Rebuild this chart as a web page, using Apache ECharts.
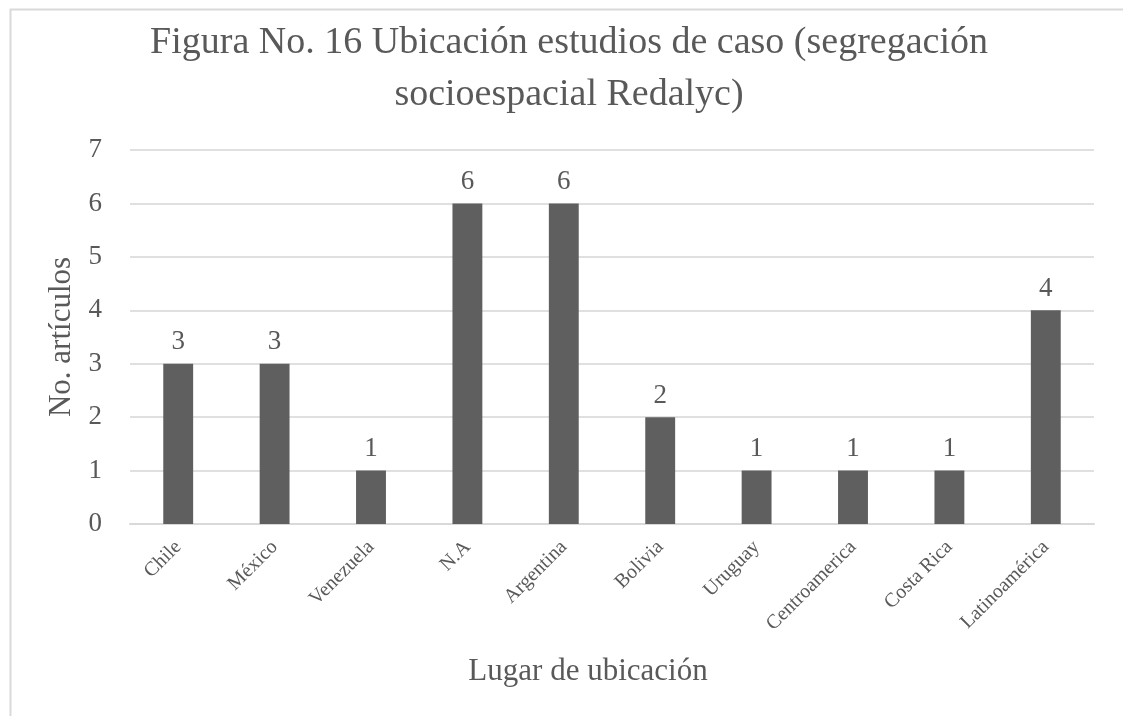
<!DOCTYPE html>
<html>
<head>
<meta charset="utf-8">
<script src="https://cdn.jsdelivr.net/npm/echarts@6/dist/echarts.min.js"></script>
<style>
  html, body { margin: 0; padding: 0; background: #fff; }
  #chart { width: 1123px; height: 716px; }
</style>
</head>
<body>
<div id="chart"></div>
<script>
// datos
const categories = ["Chile", "México", "Venezuela", "N.A", "Argentina", "Bolivia", "Uruguay", "Centroamerica", "Costa Rica", "Latinoamérica"];
const articulos = [3, 3, 1, 6, 6, 2, 1, 1, 1, 4];
const yTicks = { min: 0, max: 7, interval: 1 };

const serif = "'Liberation Serif', 'Times New Roman', serif";
const gris = "#595959";

const chart = echarts.init(document.getElementById("chart"));

const option = {
    backgroundColor: "#fff",
    animation: false,
    // marco del gráfico (recortado abajo)
    graphic: [
        {
            type: "rect",
            left: 8,
            top: 7,
            shape: { width: 1114, height: 730 },
            style: { fill: "none", stroke: "#d9d9d9", lineWidth: 2 },
            silent: true
        }
    ],
    title: {
        text: "Figura No. 16 Ubicación estudios de caso (segregación\nsocioespacial Redalyc)",
        left: 564,
        top: 12,
        textAlign: "center",
        textStyle: {
            fontFamily: serif,
            fontWeight: "normal",
            fontSize: 38,
            lineHeight: 52,
            color: gris
        }
    },
    grid: {
        left: 130,
        right: 29,
        top: 150,
        bottom: 192
    },
    xAxis: {
        type: "category",
        data: categories,
        name: "Lugar de ubicación",
        nameLocation: "middle",
        nameGap: 132,
        nameTextStyle: { fontFamily: serif, fontSize: 31, color: gris, padding: [0, 48, 0, 0] },
        axisLine: { lineStyle: { color: "#d9d9d9", width: 2 } },
        axisTick: { show: false },
        axisLabel: {
            rotate: 45,
            interval: 0,
            margin: 20,
            fontFamily: serif,
            fontSize: 20,
            color: gris
        }
    },
    yAxis: {
        type: "value",
        min: yTicks.min,
        max: yTicks.max,
        interval: yTicks.interval,
        name: "No. artículos",
        nameLocation: "middle",
        nameGap: 52,
        nameTextStyle: { fontFamily: serif, fontSize: 31, color: gris },
        axisLine: { show: false },
        axisTick: { show: false },
        axisLabel: {
            margin: 28,
            fontFamily: serif,
            fontSize: 27,
            color: gris
        },
        splitLine: { lineStyle: { color: "#e0e0e0", width: 2 } }
    },
    series: [
        {
            name: "No. artículos",
            type: "bar",
            data: articulos,
            barWidth: "31%",
            itemStyle: { color: "#5f5f5f" },
            label: {
                show: true,
                position: "top",
                distance: 8,
                fontFamily: serif,
                fontSize: 27,
                color: gris
            }
        }
    ]
};

chart.setOption(option);
</script>
</body>
</html>
